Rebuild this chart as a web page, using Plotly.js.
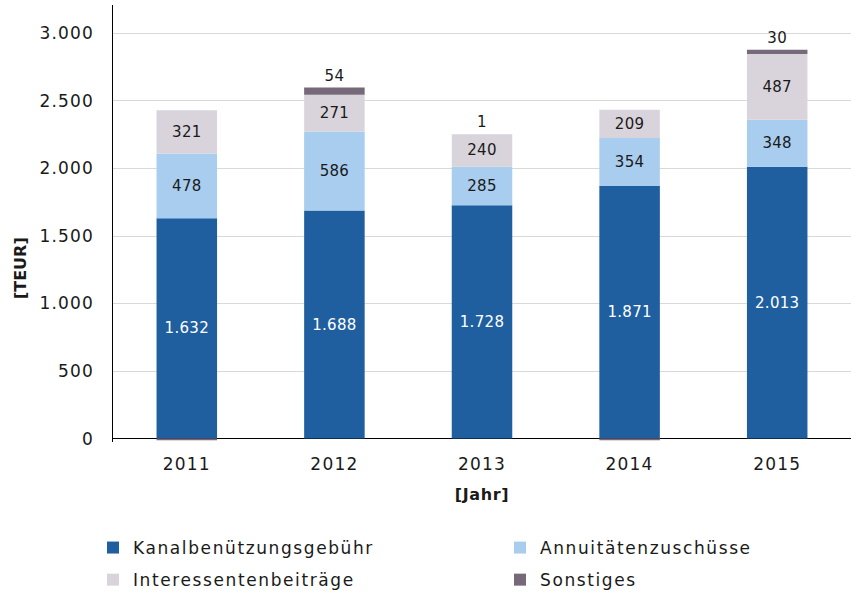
<!DOCTYPE html>
<html><head><meta charset="utf-8">
<script src="https://cdn.plot.ly/plotly-3.0.1.min.js"></script>
<style>
html,body{margin:0;padding:0;background:#fff}#c{width:851px;height:593px}
.xtick text, .ytick text {letter-spacing:1.2px}
.bartext {letter-spacing:0.3px}
.g-xtitle text {letter-spacing:0.6px}
.legendtext {letter-spacing:1.6px}
.scrollbox {clip-path:none !important}
</style>
</head><body><div id="c"></div>
<script>
const years = ['2011','2012','2013','2014','2015'];
const kanal = [1632, 1688, 1728, 1871, 2013];
const annuitaet = [478, 586, 285, 354, 348];
const interessenten = [321, 271, 240, 209, 487];
const sonstiges = [-12, 54, 1, -12, 30];
const seriesNames = ['Kanalbenützungsgebühr','Annuitätenzuschüsse','Interessentenbeiträge','Sonstiges'];
const colors = ['#1F5FA0','#A9CDEE','#D9D4DB','#76697A'];

function fmt(v){ return String(v).replace(/\B(?=(\d{3})+(?!\d))/g,'.'); }
const FONT = 'DejaVu Sans, Verdana, sans-serif';
const TXT = '#1a1a1a';

function tr(name, vals, color, txtColor, pos, legend){
  return {type:'bar', name:name, x:years, y:vals, legend:legend, legendgroup:name,
    marker:{color:color, line:{width:0}},
    text: vals.map(v => v > 0 ? fmt(v) : ''),
    textposition: pos, insidetextanchor:'middle',
    textfont:{family:FONT, size:15, color:txtColor},
    outsidetextfont:{family:FONT, size:15, color:TXT},
    constraintext:'none', cliponaxis:false,
    hoverinfo:'skip'};
}
const data = [
  tr(seriesNames[0], kanal, colors[0], '#ffffff', 'inside', 'legend'),
  tr(seriesNames[1], annuitaet, colors[1], TXT, 'inside', 'legend2'),
  tr(seriesNames[2], interessenten, colors[2], TXT, 'inside', 'legend'),
  tr(seriesNames[3], sonstiges, colors[3], TXT, 'outside', 'legend2')
];
const legBase = {orientation:'v', xref:'container', yref:'container', yanchor:'top', y:1-530/593,
  font:{family:FONT, size:17, color:TXT}, tracegroupgap:7, bgcolor:'rgba(0,0,0,0)', borderwidth:0, traceorder:'grouped'};
const layout = {
  width:851, height:593, paper_bgcolor:'#fff', plot_bgcolor:'#fff',
  margin:{l:113, r:0, t:5, b:151, autoexpand:false},
  barmode:'relative', bargap:0.59, separators:',.',
  font:{family:FONT, size:15, color:TXT},
  showlegend:true,
  xaxis:{type:'category', showgrid:false, showline:false, ticks:'', tickfont:{size:17, color:TXT},
    ticklabelstandoff:10,
    title:{text:'<b>[Jahr]</b>', font:{size:16, color:TXT}, standoff:15}},
  yaxis:{range:[-25,3210], tickvals:[0,500,1000,1500,2000,2500,3000], tickformat:',.0f',
    showgrid:true, gridcolor:'#d9d9d9', gridwidth:1, zeroline:true, zerolinecolor:'#000', zerolinewidth:1.5,
    showline:true, linecolor:'#000', linewidth:1.5, ticks:'', ticklen:0, tickfont:{size:17, color:TXT},
    ticklabelstandoff:14},
  annotations:[{text:'<b>[TEUR]</b>', textangle:-90, xref:'paper', yref:'paper', x:-93/738, y:0.398,
    xanchor:'center', yanchor:'middle', showarrow:false, font:{family:FONT, size:16, color:TXT}}],
  legend:Object.assign({}, legBase, {x:93/851, xanchor:'left'}),
  legend2:Object.assign({}, legBase, {x:500/851, xanchor:'left'})
};
function spaceLegend(gd){
  gd.querySelectorAll('[class*="legend"] text').forEach(function(t){ t.style.letterSpacing = '1.6px'; });
  gd.querySelectorAll('.scrollbox').forEach(function(s){ s.removeAttribute('clip-path'); s.style.clipPath='none'; });
}
Plotly.newPlot('c', data, layout, {staticPlot:true, displayModeBar:false}).then(function(gd){
  spaceLegend(gd);
  setTimeout(function(){ spaceLegend(gd); }, 50);
});
</script></body></html>
